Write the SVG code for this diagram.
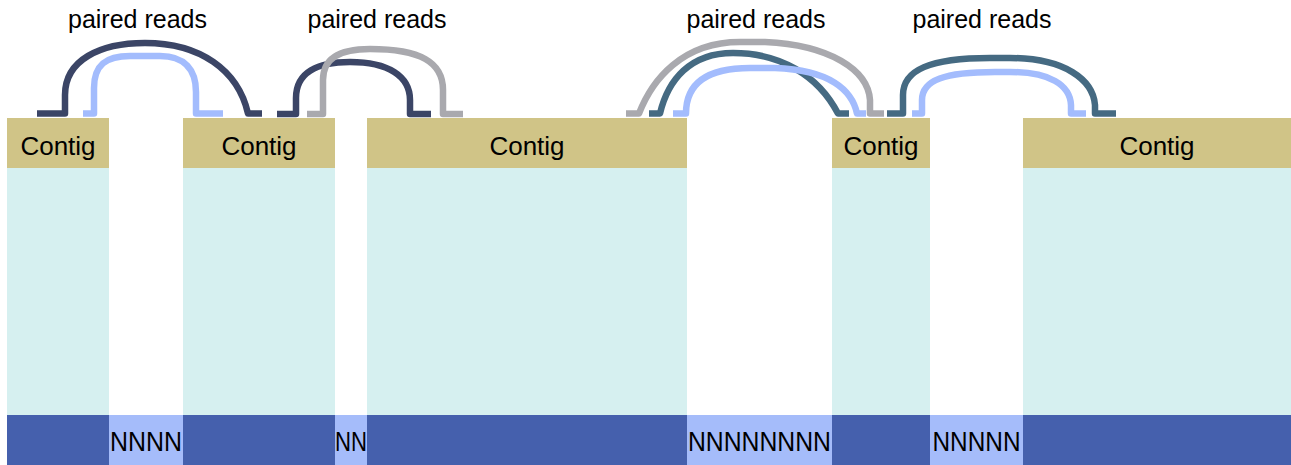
<svg xmlns="http://www.w3.org/2000/svg" width="1291" height="465" viewBox="0 0 1291 465">
<style>
.tan{fill:#d0c487}
.cy{fill:#d6f0f0}
.bar{fill:#4560ad}
.gap{fill:#a5bcfa}
.lbl{font-family:"Liberation Sans",Arial,sans-serif;font-size:26px;fill:#000;text-anchor:middle}
.pr{font-family:"Liberation Sans",Arial,sans-serif;font-size:25px;fill:#000;text-anchor:middle}
.nn{font-family:"Liberation Sans",Arial,sans-serif;font-size:27px;fill:#000;text-anchor:middle}
.rd{fill:none;stroke-width:6.5;stroke-linejoin:round}
.navy{stroke:#3b4566}
.lb{stroke:#a3bcfd}
.gr{stroke:#a9a9ae}
.tl{stroke:#456a82}
</style>
<rect x="0" y="0" width="1291" height="465" fill="#ffffff"/>
<g id="contig1"><rect class="tan" x="7" y="118" width="102" height="50"/><rect class="cy" x="7" y="168" width="102" height="247"/><text class="lbl" x="58" y="155">Contig</text></g>
<g id="contig2"><rect class="tan" x="183" y="118" width="152" height="50"/><rect class="cy" x="183" y="168" width="152" height="247"/><text class="lbl" x="259" y="155">Contig</text></g>
<g id="contig3"><rect class="tan" x="367" y="118" width="320" height="50"/><rect class="cy" x="367" y="168" width="320" height="247"/><text class="lbl" x="527" y="155">Contig</text></g>
<g id="contig4"><rect class="tan" x="832" y="118" width="98" height="50"/><rect class="cy" x="832" y="168" width="98" height="247"/><text class="lbl" x="881" y="155">Contig</text></g>
<g id="contig5"><rect class="tan" x="1023" y="118" width="268" height="50"/><rect class="cy" x="1023" y="168" width="268" height="247"/><text class="lbl" x="1157" y="155">Contig</text></g>
<g id="scaffold">
<rect class="bar" x="7" y="415" width="1284" height="50"/>
<rect class="gap" x="109" y="415" width="74" height="50"/>
<rect class="gap" x="335" y="415" width="32" height="50"/>
<rect class="gap" x="687" y="415" width="145" height="50"/>
<rect class="gap" x="930" y="415" width="93" height="50"/>
<text class="nn" x="146" y="451" textLength="72" lengthAdjust="spacingAndGlyphs">NNNN</text>
<text class="nn" x="351" y="451" textLength="32" lengthAdjust="spacingAndGlyphs">NN</text>
<text class="nn" x="759.5" y="451" textLength="143" lengthAdjust="spacingAndGlyphs">NNNNNNNN</text>
<text class="nn" x="976.5" y="451" textLength="88" lengthAdjust="spacingAndGlyphs">NNNNN</text>
</g>
<g id="labels">
<text class="pr" x="137.5" y="28">paired reads</text>
<text class="pr" x="377" y="28">paired reads</text>
<text class="pr" x="756" y="28">paired reads</text>
<text class="pr" x="982" y="28">paired reads</text>
</g>
<g id="connectors">
<path class="rd navy" d="M37,113.5 H65 V95 C65,60 100,43 145,43 C200,43 238,70 248,113.5 H262"/>
<path class="rd lb" d="M83,113.5 H94 V88 C94,65 106,56 130,56 H160 C185,56 196,70 196,92 V113.5 H223"/>
<path class="rd navy" d="M277,114 H296 V98 C296,72 318,62 350,62 C388,62 410,76 410,100 V114 H431"/>
<path class="rd gr" d="M307,114 H323 V80 C323,58 340,49 370,49 C420,49 443,62 443,90 V114 H463"/>
<path class="rd gr" d="M626,113.5 H639 C652,80 682,42 740,42 H765 C830,45 868,70 870,100 V113.5 H884"/>
<path class="rd tl" d="M649,113.5 H660 C668,80 690,53 733,53 C780,53 818,75 838,113.5 H849"/>
<path class="rd lb" d="M673,113.5 H686 C686,85 705,68 750,68 H775 C830,70 852,90 857,113.5 H866"/>
<path class="rd tl" d="M887,113.5 H903 V95 C903,70 930,58 990,58 H1010 C1065,58 1093,80 1095,105 V113.5 H1116"/>
<path class="rd lb" d="M912,113.5 H922 V100 C922,80 945,72 995,72 H1010 C1050,72 1070,85 1071,105 V113.5 H1086"/>
</g>
</svg>
